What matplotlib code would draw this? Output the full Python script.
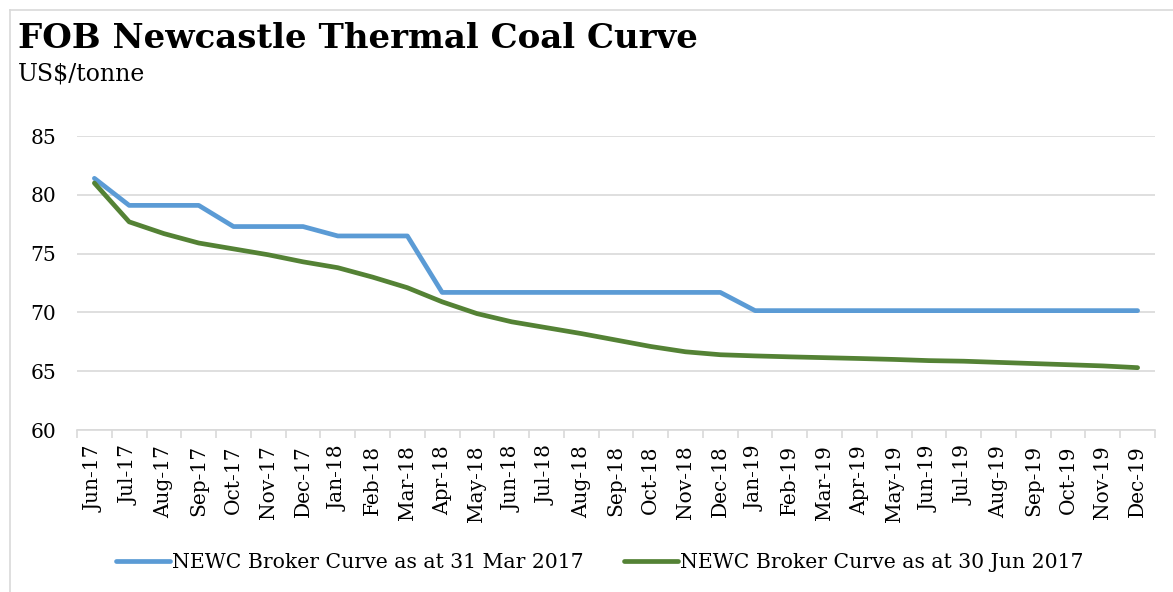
import matplotlib
matplotlib.use("Agg")
import matplotlib.pyplot as plt
from matplotlib.lines import Line2D

months = ["Jun-17", "Jul-17", "Aug-17", "Sep-17", "Oct-17", "Nov-17", "Dec-17",
          "Jan-18", "Feb-18", "Mar-18", "Apr-18", "May-18", "Jun-18", "Jul-18",
          "Aug-18", "Sep-18", "Oct-18", "Nov-18", "Dec-18", "Jan-19", "Feb-19",
          "Mar-19", "Apr-19", "May-19", "Jun-19", "Jul-19", "Aug-19", "Sep-19",
          "Oct-19", "Nov-19", "Dec-19"]

curve_mar17 = [81.4, 79.1, 79.1, 79.1, 77.3, 77.3, 77.3, 76.5, 76.5, 76.5,
               71.7, 71.7, 71.7, 71.7, 71.7, 71.7, 71.7, 71.7, 71.7,
               70.15, 70.15, 70.15, 70.15, 70.15, 70.15, 70.15, 70.15, 70.15,
               70.15, 70.15, 70.15]

curve_jun17 = [81.0, 77.7, 76.7, 75.9, 75.4, 74.9, 74.3, 73.8, 73.0, 72.1,
               70.9, 69.9, 69.2, 68.7, 68.2, 67.65, 67.1, 66.65, 66.4,
               66.3, 66.22, 66.15, 66.08, 66.0, 65.9, 65.85, 65.75, 65.65,
               65.55, 65.45, 65.3]

series_labels = ["NEWC Broker Curve as at 31 Mar 2017",
                 "NEWC Broker Curve as at 30 Jun 2017"]
colors = ["#5b9bd5", "#548235"]
y_ticks = [60, 65, 70, 75, 80, 85]

serif = ["DejaVu Serif"]
plt.rcParams["font.family"] = serif

W, H = 1173, 592
fig = plt.figure(figsize=(W / 100, H / 100), dpi=100)
ax = fig.add_axes([77 / W, 1 - 430 / H, (1155 - 77) / W, (430 - 136) / H])

x = list(range(len(months)))
for vals, c, lab in zip([curve_mar17, curve_jun17], colors, series_labels):
    ax.plot(x, vals, color=c, lw=3.4, solid_capstyle="round",
            solid_joinstyle="round", label=lab, zorder=3)

ax.set_xlim(-0.5, len(months) - 0.5)
ax.set_ylim(60, 85)
ax.set_yticks(y_ticks)
ax.set_yticklabels([str(v) for v in y_ticks], fontsize=14.5)
ax.yaxis.grid(True, color="#d9d9d9", lw=1.2)
ax.set_axisbelow(True)
ax.tick_params(axis="y", length=0, pad=15)

ax.set_xticks(x)
ax.set_xticklabels(months, rotation=90, fontsize=14.5)
ax.set_xticks([i - 0.5 for i in range(len(months) + 1)], minor=True)
ax.tick_params(axis="x", which="major", length=0, pad=11)
ax.tick_params(axis="x", which="minor", length=6, color="#d9d9d9", width=1.2)

for s in ["top", "right", "left"]:
    ax.spines[s].set_visible(False)
ax.spines["bottom"].set_color("#d9d9d9")
ax.spines["bottom"].set_linewidth(1.2)

fig.text(18 / W, 1 - 48 / H, "FOB Newcastle Thermal Coal Curve",
         fontsize=24.5, fontweight="bold", ha="left", va="baseline")
fig.text(18 / W, 1 - 80 / H, "US$/tonne", fontsize=17,
         ha="left", va="baseline")

# figure border (left and top)
fig.add_artist(Line2D([10 / W, 10 / W], [0, 1 - 10 / H], color="#d9d9d9",
                      lw=1.2, transform=fig.transFigure))
fig.add_artist(Line2D([10 / W, 1], [1 - 10 / H, 1 - 10 / H], color="#d9d9d9",
                      lw=1.2, transform=fig.transFigure))

handles, labels = ax.get_legend_handles_labels()
fig.legend(handles, labels, loc="center", bbox_to_anchor=(600 / W, 1 - 563 / H),
           ncol=2, frameon=False, fontsize=14.7, handlelength=2.6,
           handletextpad=0.12, columnspacing=2.0)

fig.savefig("out.png", dpi=100)
